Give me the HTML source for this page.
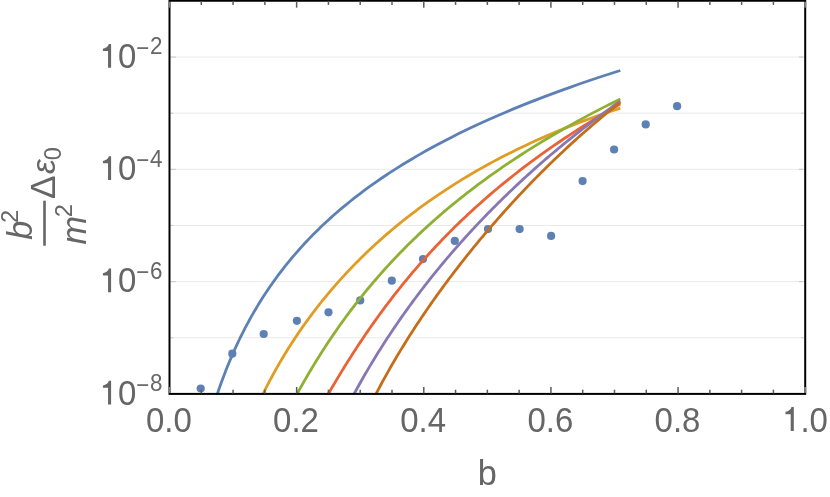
<!DOCTYPE html>
<html><head><meta charset="utf-8"><title>plot</title>
<style>
html,body{margin:0;padding:0;background:#fff;}
body{width:830px;height:497px;overflow:hidden;}
svg{display:block;will-change:transform;}
text{font-family:"Liberation Sans",sans-serif;fill:#666666;}
.it{font-style:italic;}
</style></head><body>
<svg width="830" height="497" viewBox="0 0 830 497">
<rect x="0" y="0" width="830" height="497" fill="#ffffff"/>
<defs><clipPath id="clip"><rect x="169.5" y="0.75" width="635.7" height="393.95"/></clipPath></defs>

<g stroke="#e6e6e6" stroke-width="0.85" fill="none">
<line x1="169.5" y1="337.76" x2="805.2" y2="337.76"/>
<line x1="169.5" y1="281.62" x2="805.2" y2="281.62"/>
<line x1="169.5" y1="225.48" x2="805.2" y2="225.48"/>
<line x1="169.5" y1="169.34" x2="805.2" y2="169.34"/>
<line x1="169.5" y1="113.20" x2="805.2" y2="113.20"/>
<line x1="169.5" y1="57.06" x2="805.2" y2="57.06"/>
</g>
<g fill="#5E81B5">
<circle cx="200.7" cy="388.5" r="4.1"/>
<circle cx="232.3" cy="353.7" r="4.1"/>
<circle cx="263.7" cy="334.0" r="4.1"/>
<circle cx="296.9" cy="320.8" r="4.1"/>
<circle cx="328.5" cy="312.3" r="4.1"/>
<circle cx="360.2" cy="300.4" r="4.1"/>
<circle cx="391.8" cy="280.7" r="4.1"/>
<circle cx="423.0" cy="259.1" r="4.1"/>
<circle cx="454.8" cy="240.9" r="4.1"/>
<circle cx="488.0" cy="229.1" r="4.1"/>
<circle cx="519.6" cy="229.1" r="4.1"/>
<circle cx="551.1" cy="235.9" r="4.1"/>
<circle cx="582.6" cy="181.1" r="4.1"/>
<circle cx="614.1" cy="149.5" r="4.1"/>
<circle cx="645.7" cy="124.4" r="4.1"/>
<circle cx="677.1" cy="106.2" r="4.1"/>
</g>
<g clip-path="url(#clip)" fill="none" stroke-width="2.8" stroke-linejoin="round" stroke-linecap="butt">
<path d="M214.11,403.85 L214.99,401.10 L215.88,398.35 L216.79,395.59 L217.72,392.83 L218.66,390.06 L219.63,387.29 L220.61,384.52 L221.61,381.74 L222.64,378.96 L223.68,376.18 L224.74,373.39 L225.83,370.60 L226.93,367.81 L228.06,365.01 L229.21,362.21 L230.38,359.41 L231.58,356.61 L232.80,353.81 L234.04,351.00 L235.31,348.19 L236.60,345.38 L237.91,342.56 L239.26,339.75 L240.63,336.93 L242.02,334.11 L243.45,331.29 L244.90,328.47 L246.38,325.65 L247.89,322.82 L249.42,320.00 L250.99,317.17 L252.59,314.34 L254.22,311.52 L255.89,308.69 L257.58,305.86 L259.31,303.03 L261.07,300.20 L262.87,297.36 L264.70,294.53 L266.57,291.70 L268.48,288.87 L270.42,286.03 L272.40,283.20 L274.42,280.37 L276.48,277.53 L278.58,274.70 L280.72,271.87 L282.90,269.03 L285.13,266.20 L287.40,263.37 L289.71,260.54 L292.07,257.71 L294.48,254.88 L296.93,252.04 L299.43,249.21 L301.98,246.39 L304.58,243.56 L307.23,240.73 L309.94,237.90 L312.69,235.08 L315.51,232.25 L318.37,229.43 L321.29,226.60 L324.27,223.78 L327.31,220.96 L330.41,218.14 L333.57,215.32 L336.79,212.50 L340.07,209.68 L343.42,206.87 L346.83,204.05 L350.31,201.24 L353.86,198.42 L357.48,195.61 L361.17,192.80 L364.93,189.99 L368.77,187.19 L372.68,184.38 L376.67,181.58 L380.73,178.77 L384.88,175.97 L389.11,173.17 L393.42,170.37 L397.81,167.58 L402.29,164.78 L406.86,161.99 L411.52,159.19 L416.27,156.40 L421.11,153.61 L426.05,150.82 L431.09,148.03 L436.22,145.25 L441.46,142.46 L446.80,139.68 L452.24,136.90 L457.79,134.12 L463.45,131.34 L469.22,128.56 L475.10,125.79 L481.10,123.01 L487.21,120.24 L493.45,117.47 L499.81,114.70 L506.29,111.93 L512.90,109.16 L519.64,106.39 L526.51,103.63 L533.52,100.86 L540.67,98.10 L547.95,95.34 L555.38,92.58 L562.95,89.82 L570.68,87.06 L578.55,84.30 L586.58,81.54 L594.76,78.79 L603.11,76.03 L611.62,73.28 L620.30,70.52" stroke="#5E81B5"/>
<path d="M256.85,406.96 L258.07,404.33 L259.30,401.70 L260.54,399.07 L261.81,396.45 L263.09,393.82 L264.39,391.20 L265.71,388.58 L267.04,385.96 L268.40,383.34 L269.77,380.72 L271.16,378.10 L272.57,375.49 L274.00,372.87 L275.46,370.25 L276.93,367.64 L278.42,365.02 L279.93,362.41 L281.46,359.80 L283.02,357.18 L284.60,354.57 L286.19,351.95 L287.81,349.34 L289.46,346.73 L291.12,344.11 L292.81,341.50 L294.52,338.88 L296.26,336.27 L298.02,333.65 L299.80,331.04 L301.61,328.42 L303.45,325.81 L305.31,323.19 L307.19,320.57 L309.11,317.96 L311.05,315.34 L313.01,312.72 L315.00,310.10 L317.02,307.49 L319.07,304.87 L321.15,302.25 L323.26,299.63 L325.39,297.01 L327.56,294.39 L329.75,291.78 L331.98,289.16 L334.23,286.54 L336.52,283.92 L338.84,281.31 L341.19,278.69 L343.57,276.08 L345.99,273.46 L348.44,270.85 L350.93,268.23 L353.45,265.62 L356.00,263.01 L358.59,260.40 L361.22,257.79 L363.88,255.19 L366.58,252.58 L369.31,249.98 L372.09,247.38 L374.90,244.78 L377.75,242.18 L380.65,239.59 L383.58,237.00 L386.55,234.41 L389.56,231.82 L392.62,229.24 L395.72,226.66 L398.86,224.09 L402.04,221.52 L405.27,218.95 L408.55,216.39 L411.87,213.83 L415.23,211.28 L418.64,208.73 L422.10,206.18 L425.61,203.65 L429.17,201.12 L432.77,198.59 L436.43,196.07 L440.14,193.56 L443.89,191.05 L447.70,188.55 L451.57,186.06 L455.48,183.58 L459.46,181.10 L463.48,178.63 L467.56,176.18 L471.70,173.73 L475.90,171.28 L480.15,168.85 L484.47,166.43 L488.84,164.02 L493.28,161.62 L497.77,159.23 L502.33,156.85 L506.95,154.49 L511.64,152.13 L516.39,149.79 L521.21,147.46 L526.09,145.14 L531.04,142.84 L536.06,140.55 L541.15,138.27 L546.31,136.01 L551.54,133.77 L556.85,131.54 L562.23,129.32 L567.68,127.12 L573.21,124.94 L578.82,122.78 L584.50,120.63 L590.26,118.50 L596.11,116.39 L602.03,114.30 L608.04,112.23 L614.13,110.18 L620.30,108.15" stroke="#E19C24"/>
<path d="M288.58,409.82 L289.92,407.25 L291.28,404.68 L292.65,402.10 L294.03,399.51 L295.43,396.91 L296.85,394.31 L298.28,391.71 L299.73,389.10 L301.20,386.48 L302.68,383.86 L304.18,381.23 L305.69,378.60 L307.22,375.96 L308.77,373.32 L310.34,370.68 L311.92,368.03 L313.53,365.38 L315.15,362.72 L316.78,360.07 L318.44,357.41 L320.12,354.74 L321.81,352.08 L323.52,349.41 L325.26,346.74 L327.01,344.06 L328.78,341.39 L330.57,338.71 L332.39,336.04 L334.22,333.36 L336.07,330.68 L337.94,328.00 L339.84,325.31 L341.76,322.63 L343.69,319.95 L345.65,317.26 L347.63,314.58 L349.64,311.89 L351.66,309.21 L353.71,306.53 L355.79,303.84 L357.88,301.16 L360.00,298.48 L362.14,295.79 L364.31,293.11 L366.50,290.43 L368.72,287.75 L370.96,285.07 L373.23,282.40 L375.52,279.72 L377.84,277.05 L380.18,274.37 L382.55,271.70 L384.95,269.03 L387.37,266.37 L389.82,263.70 L392.30,261.04 L394.81,258.38 L397.34,255.72 L399.90,253.06 L402.49,250.40 L405.12,247.75 L407.77,245.10 L410.45,242.46 L413.16,239.81 L415.90,237.17 L418.67,234.53 L421.47,231.89 L424.31,229.26 L427.17,226.63 L430.07,224.00 L433.00,221.38 L435.97,218.75 L438.97,216.13 L442.00,213.52 L445.06,210.91 L448.16,208.30 L451.30,205.69 L454.47,203.09 L457.67,200.49 L460.91,197.89 L464.19,195.29 L467.51,192.70 L470.86,190.12 L474.25,187.53 L477.68,184.95 L481.15,182.37 L484.65,179.80 L488.20,177.23 L491.78,174.66 L495.41,172.09 L499.07,169.53 L502.78,166.97 L506.53,164.41 L510.32,161.86 L514.16,159.31 L518.03,156.76 L521.95,154.22 L525.92,151.68 L529.93,149.14 L533.98,146.61 L538.08,144.07 L542.23,141.54 L546.42,139.02 L550.66,136.49 L554.95,133.97 L559.29,131.45 L563.67,128.93 L568.11,126.42 L572.59,123.90 L577.12,121.39 L581.71,118.89 L586.35,116.38 L591.04,113.88 L595.78,111.37 L600.57,108.87 L605.42,106.37 L610.33,103.88 L615.29,101.38 L620.30,98.89" stroke="#8FB032"/>
<path d="M317.79,412.63 L319.19,410.11 L320.59,407.59 L322.01,405.05 L323.44,402.51 L324.89,399.95 L326.34,397.39 L327.82,394.82 L329.30,392.25 L330.80,389.66 L332.32,387.07 L333.85,384.47 L335.39,381.86 L336.95,379.25 L338.52,376.63 L340.10,374.00 L341.71,371.37 L343.32,368.73 L344.95,366.09 L346.60,363.44 L348.26,360.79 L349.94,358.14 L351.63,355.48 L353.34,352.81 L355.07,350.15 L356.81,347.48 L358.57,344.80 L360.34,342.13 L362.14,339.45 L363.94,336.76 L365.77,334.08 L367.61,331.40 L369.47,328.71 L371.35,326.02 L373.24,323.33 L375.16,320.64 L377.09,317.94 L379.04,315.25 L381.00,312.56 L382.99,309.86 L384.99,307.17 L387.01,304.48 L389.06,301.78 L391.12,299.09 L393.20,296.40 L395.30,293.71 L397.42,291.02 L399.56,288.33 L401.72,285.64 L403.90,282.95 L406.10,280.27 L408.32,277.59 L410.56,274.90 L412.82,272.22 L415.10,269.55 L417.41,266.87 L419.74,264.20 L422.09,261.53 L424.46,258.86 L426.85,256.20 L429.27,253.54 L431.70,250.88 L434.17,248.23 L436.65,245.57 L439.16,242.93 L441.69,240.28 L444.24,237.64 L446.82,235.00 L449.43,232.37 L452.05,229.74 L454.71,227.11 L457.38,224.49 L460.09,221.87 L462.81,219.26 L465.57,216.65 L468.35,214.04 L471.15,211.44 L473.98,208.85 L476.84,206.26 L479.73,203.67 L482.64,201.08 L485.58,198.51 L488.54,195.93 L491.54,193.36 L494.56,190.80 L497.61,188.24 L500.69,185.68 L503.80,183.13 L506.94,180.59 L510.11,178.05 L513.30,175.51 L516.53,172.98 L519.79,170.45 L523.08,167.93 L526.40,165.41 L529.75,162.90 L533.13,160.39 L536.54,157.89 L539.99,155.39 L543.47,152.90 L546.98,150.41 L550.52,147.92 L554.10,145.44 L557.71,142.97 L561.35,140.50 L565.03,138.03 L568.74,135.57 L572.49,133.11 L576.27,130.65 L580.09,128.20 L583.94,125.76 L587.83,123.32 L591.76,120.88 L595.72,118.45 L599.73,116.02 L603.76,113.59 L607.84,111.17 L611.95,108.75 L616.11,106.33 L620.30,103.92" stroke="#EB6235"/>
<path d="M341.87,417.53 L343.27,414.73 L344.68,411.93 L346.10,409.14 L347.53,406.36 L348.98,403.58 L350.43,400.80 L351.90,398.03 L353.38,395.27 L354.87,392.51 L356.38,389.75 L357.89,387.00 L359.42,384.25 L360.96,381.51 L362.51,378.77 L364.08,376.04 L365.66,373.31 L367.25,370.58 L368.85,367.86 L370.47,365.14 L372.10,362.42 L373.74,359.71 L375.40,357.00 L377.07,354.29 L378.75,351.58 L380.45,348.88 L382.16,346.18 L383.89,343.49 L385.63,340.80 L387.38,338.11 L389.15,335.42 L390.93,332.73 L392.72,330.05 L394.53,327.37 L396.36,324.69 L398.20,322.01 L400.06,319.33 L401.93,316.66 L403.81,313.99 L405.71,311.32 L407.63,308.65 L409.56,305.99 L411.51,303.32 L413.47,300.66 L415.45,298.00 L417.44,295.33 L419.45,292.68 L421.48,290.02 L423.53,287.36 L425.59,284.71 L427.66,282.05 L429.76,279.40 L431.87,276.74 L434.00,274.09 L436.14,271.44 L438.30,268.79 L440.49,266.15 L442.68,263.50 L444.90,260.85 L447.13,258.20 L449.39,255.56 L451.66,252.91 L453.94,250.27 L456.25,247.63 L458.58,244.99 L460.92,242.34 L463.29,239.70 L465.67,237.06 L468.07,234.42 L470.49,231.78 L472.93,229.14 L475.40,226.51 L477.88,223.87 L480.38,221.23 L482.90,218.60 L485.44,215.96 L488.01,213.33 L490.59,210.69 L493.19,208.06 L495.82,205.43 L498.47,202.79 L501.13,200.16 L503.82,197.53 L506.54,194.90 L509.27,192.27 L512.03,189.64 L514.80,187.02 L517.61,184.39 L520.43,181.76 L523.28,179.14 L526.14,176.51 L529.04,173.89 L531.95,171.27 L534.89,168.65 L537.86,166.03 L540.85,163.41 L543.86,160.79 L546.89,158.18 L549.96,155.56 L553.04,152.95 L556.15,150.34 L559.29,147.73 L562.45,145.12 L565.64,142.51 L568.85,139.90 L572.09,137.30 L575.36,134.70 L578.65,132.10 L581.97,129.50 L585.31,126.90 L588.69,124.31 L592.09,121.71 L595.51,119.12 L598.97,116.54 L602.45,113.95 L605.97,111.37 L609.51,108.79 L613.07,106.21 L616.67,103.63 L620.30,101.06" stroke="#8778B3"/>
<path d="M362.12,422.08 L363.50,419.13 L364.90,416.20 L366.30,413.29 L367.71,410.38 L369.13,407.49 L370.56,404.61 L372.00,401.74 L373.46,398.88 L374.92,396.04 L376.39,393.20 L377.87,390.37 L379.37,387.55 L380.87,384.74 L382.39,381.94 L383.92,379.15 L385.45,376.37 L387.00,373.59 L388.56,370.82 L390.13,368.06 L391.71,365.30 L393.31,362.55 L394.91,359.81 L396.53,357.07 L398.16,354.34 L399.80,351.61 L401.45,348.89 L403.11,346.18 L404.79,343.46 L406.47,340.76 L408.17,338.05 L409.88,335.35 L411.61,332.66 L413.34,329.96 L415.09,327.27 L416.85,324.59 L418.63,321.90 L420.41,319.22 L422.21,316.54 L424.03,313.86 L425.85,311.19 L427.69,308.51 L429.54,305.84 L431.41,303.17 L433.28,300.50 L435.18,297.83 L437.08,295.17 L439.00,292.50 L440.93,289.84 L442.88,287.17 L444.84,284.51 L446.81,281.84 L448.80,279.18 L450.80,276.52 L452.82,273.85 L454.85,271.19 L456.90,268.53 L458.96,265.86 L461.04,263.20 L463.13,260.54 L465.23,257.87 L467.35,255.21 L469.49,252.55 L471.64,249.88 L473.81,247.22 L475.99,244.55 L478.19,241.89 L480.40,239.22 L482.63,236.55 L484.87,233.89 L487.14,231.22 L489.41,228.55 L491.71,225.89 L494.02,223.22 L496.35,220.55 L498.69,217.88 L501.05,215.21 L503.43,212.54 L505.82,209.88 L508.23,207.21 L510.66,204.54 L513.11,201.87 L515.57,199.20 L518.05,196.54 L520.55,193.87 L523.07,191.20 L525.61,188.54 L528.16,185.88 L530.73,183.21 L533.32,180.55 L535.93,177.89 L538.56,175.23 L541.21,172.57 L543.87,169.92 L546.56,167.27 L549.26,164.61 L551.98,161.97 L554.73,159.32 L557.49,156.68 L560.27,154.04 L563.07,151.40 L565.89,148.76 L568.74,146.13 L571.60,143.51 L574.48,140.88 L577.39,138.27 L580.31,135.65 L583.26,133.04 L586.22,130.44 L589.21,127.84 L592.22,125.25 L595.25,122.66 L598.31,120.08 L601.38,117.51 L604.48,114.94 L607.60,112.38 L610.74,109.83 L613.90,107.29 L617.09,104.75 L620.30,102.22" stroke="#C56E1A"/>
</g>
<g stroke="#c9c9c9" stroke-width="1.1" fill="none">
<line x1="170.5" y1="337.76" x2="173.3" y2="337.76"/>
<line x1="803.3000000000001" y1="337.76" x2="801.4000000000001" y2="337.76"/>
<line x1="170.5" y1="281.62" x2="175.9" y2="281.62"/>
<line x1="803.3000000000001" y1="281.62" x2="798.8000000000001" y2="281.62"/>
<line x1="170.5" y1="225.48" x2="173.3" y2="225.48"/>
<line x1="803.3000000000001" y1="225.48" x2="801.4000000000001" y2="225.48"/>
<line x1="170.5" y1="169.34" x2="175.9" y2="169.34"/>
<line x1="803.3000000000001" y1="169.34" x2="798.8000000000001" y2="169.34"/>
<line x1="170.5" y1="113.20" x2="173.3" y2="113.20"/>
<line x1="803.3000000000001" y1="113.20" x2="801.4000000000001" y2="113.20"/>
<line x1="170.5" y1="57.06" x2="175.9" y2="57.06"/>
<line x1="803.3000000000001" y1="57.06" x2="798.8000000000001" y2="57.06"/>
</g>
<rect x="169.5" y="0.75" width="635.7" height="393.15" fill="none" stroke="#000" stroke-width="2.0"/>
<g stroke="#5c5c5c" stroke-width="1.5" fill="none">
<line x1="169.50" y1="392.9" x2="169.50" y2="387.0" stroke="#808080" stroke-width="2.0"/>
<line x1="169.50" y1="1.75" x2="169.50" y2="7.65" stroke="#808080" stroke-width="2.0"/>
<line x1="201.28" y1="393.4" x2="201.28" y2="389.7"/>
<line x1="201.28" y1="1.25" x2="201.28" y2="4.95"/>
<line x1="233.07" y1="393.4" x2="233.07" y2="389.7"/>
<line x1="233.07" y1="1.25" x2="233.07" y2="4.95"/>
<line x1="264.86" y1="393.4" x2="264.86" y2="389.7"/>
<line x1="264.86" y1="1.25" x2="264.86" y2="4.95"/>
<line x1="296.64" y1="393.4" x2="296.64" y2="387.0"/>
<line x1="296.64" y1="1.25" x2="296.64" y2="7.65"/>
<line x1="328.43" y1="393.4" x2="328.43" y2="389.7"/>
<line x1="328.43" y1="1.25" x2="328.43" y2="4.95"/>
<line x1="360.21" y1="393.4" x2="360.21" y2="389.7"/>
<line x1="360.21" y1="1.25" x2="360.21" y2="4.95"/>
<line x1="392.00" y1="393.4" x2="392.00" y2="389.7"/>
<line x1="392.00" y1="1.25" x2="392.00" y2="4.95"/>
<line x1="423.78" y1="393.4" x2="423.78" y2="387.0"/>
<line x1="423.78" y1="1.25" x2="423.78" y2="7.65"/>
<line x1="455.56" y1="393.4" x2="455.56" y2="389.7"/>
<line x1="455.56" y1="1.25" x2="455.56" y2="4.95"/>
<line x1="487.35" y1="393.4" x2="487.35" y2="389.7"/>
<line x1="487.35" y1="1.25" x2="487.35" y2="4.95"/>
<line x1="519.13" y1="393.4" x2="519.13" y2="389.7"/>
<line x1="519.13" y1="1.25" x2="519.13" y2="4.95"/>
<line x1="550.92" y1="393.4" x2="550.92" y2="387.0"/>
<line x1="550.92" y1="1.25" x2="550.92" y2="7.65"/>
<line x1="582.71" y1="393.4" x2="582.71" y2="389.7"/>
<line x1="582.71" y1="1.25" x2="582.71" y2="4.95"/>
<line x1="614.49" y1="393.4" x2="614.49" y2="389.7"/>
<line x1="614.49" y1="1.25" x2="614.49" y2="4.95"/>
<line x1="646.27" y1="393.4" x2="646.27" y2="389.7"/>
<line x1="646.27" y1="1.25" x2="646.27" y2="4.95"/>
<line x1="678.06" y1="393.4" x2="678.06" y2="387.0"/>
<line x1="678.06" y1="1.25" x2="678.06" y2="7.65"/>
<line x1="709.85" y1="393.4" x2="709.85" y2="389.7"/>
<line x1="709.85" y1="1.25" x2="709.85" y2="4.95"/>
<line x1="741.63" y1="393.4" x2="741.63" y2="389.7"/>
<line x1="741.63" y1="1.25" x2="741.63" y2="4.95"/>
<line x1="773.42" y1="393.4" x2="773.42" y2="389.7"/>
<line x1="773.42" y1="1.25" x2="773.42" y2="4.95"/>
<line x1="805.20" y1="392.9" x2="805.20" y2="387.0" stroke="#808080" stroke-width="2.0"/>
<line x1="805.20" y1="1.75" x2="805.20" y2="7.65" stroke="#808080" stroke-width="2.0"/>
</g>
<text transform="translate(168.90,431.50) scale(1,1.065)" font-size="33" text-anchor="middle">0.0</text>
<text transform="translate(296.04,431.50) scale(1,1.065)" font-size="33" text-anchor="middle">0.2</text>
<text transform="translate(423.18,431.50) scale(1,1.065)" font-size="33" text-anchor="middle">0.4</text>
<text transform="translate(550.32,431.50) scale(1,1.065)" font-size="33" text-anchor="middle">0.6</text>
<text transform="translate(677.46,431.50) scale(1,1.065)" font-size="33" text-anchor="middle">0.8</text>
<path fill="#666666" d="M793.80,431.10 L793.80,407.10 L791.50,407.10 C791.00,409.50 788.80,411.40 785.50,411.80 L785.50,414.20 L790.70,414.20 L790.70,431.10 Z"/>
<text transform="translate(800.40,431.50) scale(1,1.065)" font-size="33">.0</text>
<path fill="#666666" d="M111.10,404.50 L111.10,380.86 L108.83,380.86 C108.34,383.22 106.17,385.10 102.92,385.49 L102.92,387.85 L108.05,387.85 L108.05,404.50 Z"/>
<text transform="translate(118.00,404.60) scale(1,1.065)" font-size="33">0</text>
<text transform="translate(136.20,392.60) scale(1,1.065)" font-size="22.4">−</text>
<text transform="translate(149.90,391.10) scale(1,1.065)" font-size="22.4">8</text>
<path fill="#666666" d="M111.10,292.22 L111.10,268.58 L108.83,268.58 C108.34,270.94 106.17,272.82 102.92,273.21 L102.92,275.57 L108.05,275.57 L108.05,292.22 Z"/>
<text transform="translate(118.00,292.32) scale(1,1.065)" font-size="33">0</text>
<text transform="translate(136.20,280.32) scale(1,1.065)" font-size="22.4">−</text>
<text transform="translate(149.90,278.82) scale(1,1.065)" font-size="22.4">6</text>
<path fill="#666666" d="M111.10,179.94 L111.10,156.30 L108.83,156.30 C108.34,158.66 106.17,160.54 102.92,160.93 L102.92,163.29 L108.05,163.29 L108.05,179.94 Z"/>
<text transform="translate(118.00,180.04) scale(1,1.065)" font-size="33">0</text>
<text transform="translate(136.20,168.04) scale(1,1.065)" font-size="22.4">−</text>
<text transform="translate(149.90,166.54) scale(1,1.065)" font-size="22.4">4</text>
<path fill="#666666" d="M111.10,67.66 L111.10,44.02 L108.83,44.02 C108.34,46.38 106.17,48.26 102.92,48.65 L102.92,51.01 L108.05,51.01 L108.05,67.66 Z"/>
<text transform="translate(118.00,67.76) scale(1,1.065)" font-size="33">0</text>
<text transform="translate(136.20,55.76) scale(1,1.065)" font-size="22.4">−</text>
<text transform="translate(149.90,54.26) scale(1,1.065)" font-size="22.4">2</text>
<text x="487.30" y="484.70" font-size="34.3" text-anchor="middle">b</text>
<g transform="rotate(-90)">
<text x="-239.80" y="31.60" font-size="34.2" class="it">b</text>
<text x="-223.00" y="17.70" font-size="23.5">2</text>
<text x="-244.40" y="85.60" font-size="34.2" class="it">m</text>
<text x="-217.20" y="72.10" font-size="23.5">2</text>
<rect x="-245.7" y="43.2" width="45" height="2.6" fill="#666666"/>
<text x="-198.90" y="55.00" font-size="35.2">Δ</text>
<text x="-174.00" y="55.00" font-size="33.2" class="it">ε</text>
<text x="-160.20" y="60.90" font-size="23.5">0</text>
</g>
</svg></body></html>
